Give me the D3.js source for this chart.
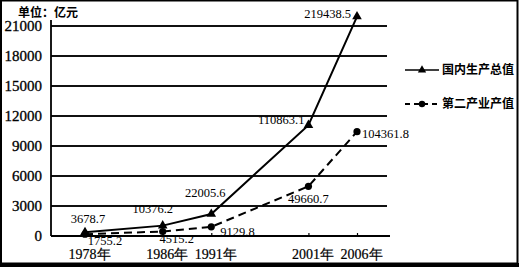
<!DOCTYPE html>
<html>
<head>
<meta charset="utf-8">
<script src="https://cdn.jsdelivr.net/npm/d3@7/dist/d3.min.js"></script>
<style>
  html, body { margin: 0; padding: 0; background: #fff; }
  svg { display: block; }
</style>
</head>
<body>
<div id="chart"></div>
<script>
// data (labels as printed; the curves are drawn on the 亿元 axis, i.e. label / 10)
const years = [1978, 1986, 1991, 2001, 2006];
const gdp = [3678.7, 10376.2, 22005.6, 110863.1, 219438.5];
const secondary = [1755.2, 4515.2, 9129.8, 49660.7, 104361.8];
const yTicks = [0, 3000, 6000, 9000, 12000, 15000, 18000, 21000];
const seriesNames = ['国内生产总值', '第二产业产值'];

const width = 519;
const height = 267;

const serif = '"Liberation Serif", "DejaVu Serif", serif';
const sans = '"Noto Sans CJK SC", "Noto Sans", sans-serif';

const svg = d3.select('#chart')
  .append('svg')
  .attr('width', width)
  .attr('height', height);

svg.append('rect')
  .attr('width', width)
  .attr('height', height)
  .attr('fill', '#fff');

// frame
svg.append('rect')
  .attr('x', 1)
  .attr('y', 0.5)
  .attr('width', 516.5)
  .attr('height', 263)
  .attr('fill', 'none')
  .attr('stroke', '#000')
  .attr('stroke-width', 2);
svg.append('rect')
  .attr('x', 0)
  .attr('y', 263)
  .attr('width', width)
  .attr('height', 4)
  .attr('fill', '#000');

// scales
const x = d3.scaleLinear().domain([1978, 2006]).range([85, 357]);
const y = d3.scaleLinear().domain([0, 21000]).range([236, 26]);
const toAxis = v => v / 10;

const left = 51;
const gridRight = 387;

// grid lines
svg.append('g')
  .selectAll('line')
  .data(yTicks.filter(d => d > 0))
  .enter().append('line')
  .attr('x1', left)
  .attr('x2', gridRight)
  .attr('y1', d => y(d))
  .attr('y2', d => y(d))
  .attr('stroke', '#111')
  .attr('stroke-width', 1.8);

// y axis
const yAxis = svg.append('g')
  .attr('transform', `translate(${left},0)`)
  .call(d3.axisLeft(y).tickValues(yTicks).tickSize(0).tickPadding(9)
    .tickFormat(d3.format('d')));
yAxis.select('.domain').remove();
yAxis.append('line')
  .attr('y1', 20)
  .attr('y2', 236)
  .attr('stroke', '#000')
  .attr('stroke-width', 1.8);
yAxis.selectAll('text')
  .attr('font-family', serif)
  .attr('font-size', 15)
  .attr('fill', '#000')
  .attr('stroke', '#000')
  .attr('stroke-width', 0.3);

// x axis
const xAxis = svg.append('g')
  .attr('transform', 'translate(0,236)')
  .call(d3.axisBottom(x).tickValues(years).tickSize(-3).tickPadding(13)
    .tickFormat(d => d + '年'));
xAxis.select('.domain')
  .attr('d', `M${left},0H390`)
  .attr('stroke', '#000')
  .attr('stroke-width', 1.8);
xAxis.selectAll('.tick line').attr('stroke', '#000').attr('stroke-width', 1.2);
xAxis.selectAll('text')
  .attr('font-family', serif)
  .attr('font-size', 14)
  .attr('fill', '#000')
  .attr('dx', 4)
  .attr('stroke', '#000')
  .attr('stroke-width', 0.2);

// unit label
svg.append('text')
  .attr('x', 18)
  .attr('y', 17)
  .attr('font-family', sans)
  .attr('font-weight', 'bold')
  .attr('font-size', 12)
  .text('单位：亿元');

// lines
const line = d3.line()
  .x((d, i) => x(years[i]))
  .y(d => y(toAxis(d)));

svg.append('path')
  .datum(gdp)
  .attr('d', line)
  .attr('fill', 'none')
  .attr('stroke', '#000')
  .attr('stroke-width', 2);

svg.append('path')
  .datum(secondary)
  .attr('d', line)
  .attr('fill', 'none')
  .attr('stroke', '#000')
  .attr('stroke-width', 2)
  .attr('stroke-dasharray', '8,5');

const tri = d3.symbol().type(d3.symbolTriangle).size(40);

svg.append('g')
  .selectAll('path')
  .data(gdp)
  .enter().append('path')
  .attr('d', tri)
  .attr('transform', (d, i) => `translate(${x(years[i])},${y(toAxis(d))})`)
  .attr('fill', '#000');

svg.append('g')
  .selectAll('circle')
  .data(secondary)
  .enter().append('circle')
  .attr('cx', (d, i) => x(years[i]))
  .attr('cy', d => y(toAxis(d)))
  .attr('r', 3.6)
  .attr('fill', '#000');

// value labels
const gdpLabelPos = [
  { dx: 3, dy: -9, anchor: 'middle' },
  { dx: -10, dy: -13, anchor: 'middle' },
  { dx: -6, dy: -17, anchor: 'middle' },
  { dx: -4, dy: -1, anchor: 'end' },
  { dx: -6, dy: 1, anchor: 'end' },
];
const secLabelPos = [
  { dx: 20, dy: 11, anchor: 'middle' },
  { dx: 14, dy: 12, anchor: 'middle' },
  { dx: 9, dy: 9, anchor: 'start' },
  { dx: 0, dy: 17, anchor: 'middle' },
  { dx: 5, dy: 6, anchor: 'start' },
];

function labels(values, pos) {
  svg.append('g')
    .selectAll('text')
    .data(values)
    .enter().append('text')
    .attr('x', (d, i) => x(years[i]) + pos[i].dx)
    .attr('y', d => y(toAxis(d)))
    .attr('dy', (d, i) => pos[i].dy)
    .attr('text-anchor', (d, i) => pos[i].anchor)
    .attr('font-family', serif)
    .attr('font-size', 12.5)
    .attr('fill', '#000')
    .text(d => d.toFixed(1));
}
labels(gdp, gdpLabelPos);
labels(secondary, secLabelPos);

// legend
const legend = svg.append('g').attr('transform', 'translate(405,0)');
const legendRows = [70, 104];

legend.append('line')
  .attr('x1', 0).attr('x2', 34)
  .attr('y1', legendRows[0]).attr('y2', legendRows[0])
  .attr('stroke', '#000').attr('stroke-width', 1.5);
legend.append('path')
  .attr('d', d3.symbol().type(d3.symbolTriangle).size(30))
  .attr('transform', `translate(17,${legendRows[0]})`);

legend.append('line')
  .attr('x1', 0).attr('x2', 34)
  .attr('y1', legendRows[1]).attr('y2', legendRows[1])
  .attr('stroke', '#000').attr('stroke-width', 1.8)
  .attr('stroke-dasharray', '5,4');
legend.append('circle')
  .attr('cx', 17).attr('cy', legendRows[1]).attr('r', 3.2);

legend.selectAll('text.name')
  .data(seriesNames)
  .enter().append('text')
  .attr('class', 'name')
  .attr('x', 37)
  .attr('y', (d, i) => legendRows[i])
  .attr('dy', '0.36em')
  .attr('font-family', sans)
  .attr('font-weight', 'bold')
  .attr('font-size', 12)
  .text(d => d);
</script>
</body>
</html>
